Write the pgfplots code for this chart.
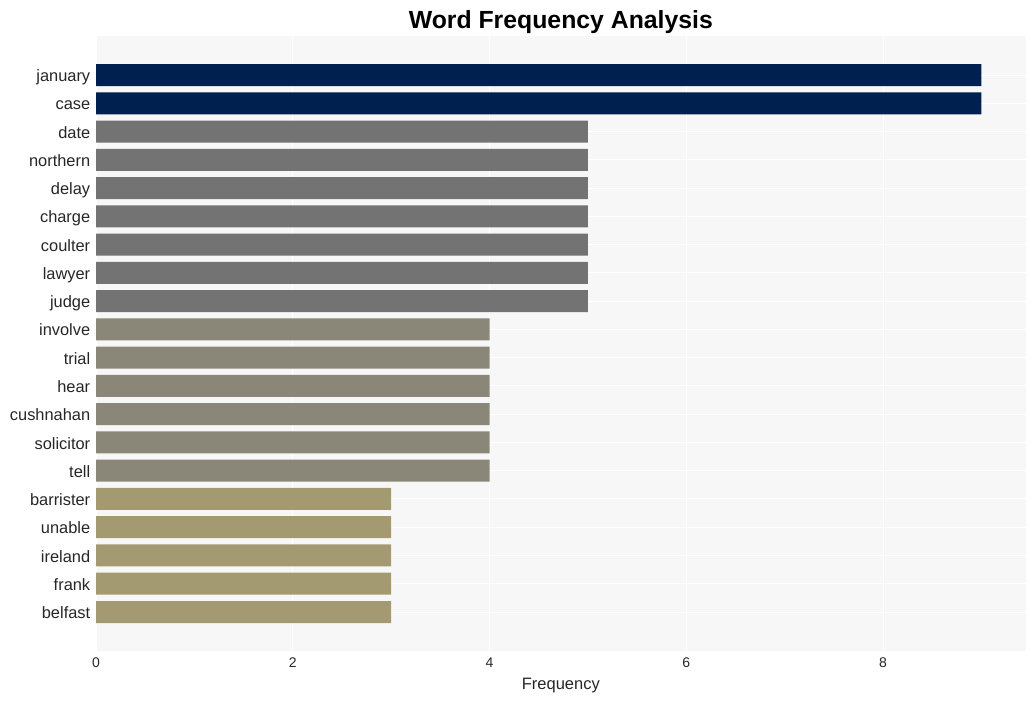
\documentclass[border=0pt]{standalone}
\usepackage{pgfplots}
\pgfplotsset{compat=1.18}
\usepackage{fontspec}
\setmainfont{Liberation Sans}
\definecolor{navy}{HTML}{00204F}
\definecolor{grayb}{HTML}{737373}
\definecolor{taupe}{HTML}{8A8778}
\definecolor{khaki}{HTML}{A39A72}
\definecolor{bg}{HTML}{F7F7F7}
\begin{document}
\begin{tikzpicture}[x=1pt,y=1pt]
\path (0,0) rectangle (1036,701);
\begin{axis}[
  at={(96pt,50pt)}, anchor=south west,
  scale only axis, width=929.7pt, height=615pt,
  xmin=0, xmax=9.45,
  ymin=-1.38, ymax=20.38, y dir=reverse,
  axis background/.style={fill=bg},
  axis line style={draw=none},
  tick style={draw=none},
  grid=major, major grid style={draw=white, line width=1pt},
  xtick={0,2,4,6,8},
  ytick={0,...,19},
  yticklabels={january,case,date,northern,delay,charge,coulter,lawyer,judge,involve,trial,hear,cushnahan,solicitor,tell,barrister,unable,ireland,frank,belfast},
  yticklabel style={font=\fontsize{16.4}{16.4}\selectfont, text=black!85, text height=0.72em, text depth=0.2em, xshift=2pt, yshift=-4pt},
  xticklabel style={font=\fontsize{14}{14}\selectfont, text=black!85, yshift=-3pt},
  /pgf/number format/assume math mode=true,
  xlabel={Frequency}, xlabel style={font=\fontsize{16.5}{16.5}\selectfont, text=black!85, yshift=-4pt},
  title={\textbf{Word Frequency Analysis}}, title style={font=\fontsize{24.8}{24.8}\selectfont, yshift=-7pt},
  xbar, bar width=22pt, bar shift=0pt,
]
\addplot[fill=navy, draw=none] coordinates {(9,0) (9,1)};
\addplot[fill=grayb, draw=none] coordinates {(5,2) (5,3) (5,4) (5,5) (5,6) (5,7) (5,8)};
\addplot[fill=taupe, draw=none] coordinates {(4,9) (4,10) (4,11) (4,12) (4,13) (4,14)};
\addplot[fill=khaki, draw=none] coordinates {(3,15) (3,16) (3,17) (3,18) (3,19)};
\end{axis}
\end{tikzpicture}
\end{document}
